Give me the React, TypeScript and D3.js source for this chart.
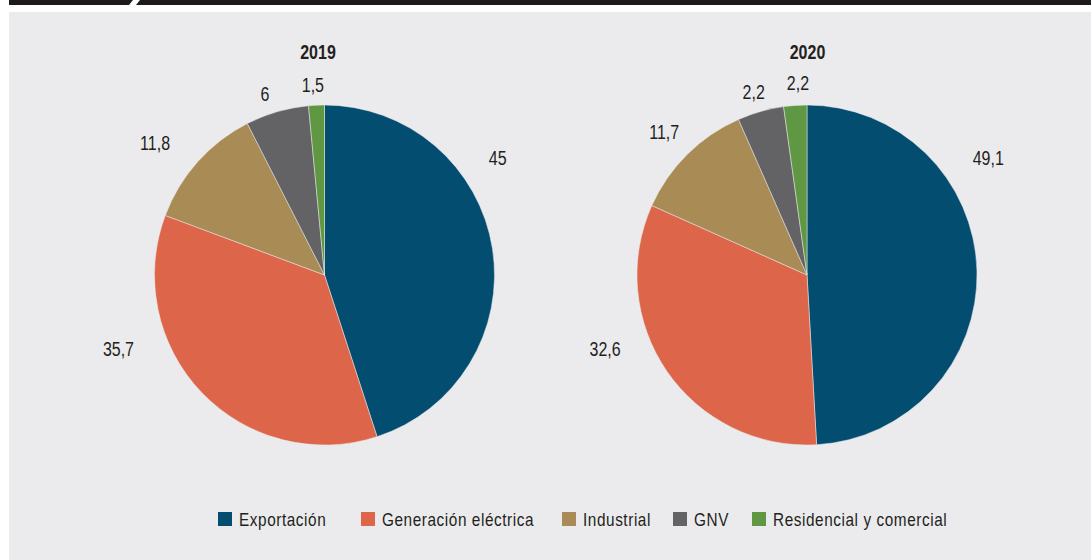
import React from "react";
import * as d3 from "d3";

const categories = ["Exportación", "Generación eléctrica", "Industrial", "GNV", "Residencial y comercial"];
const years = ["2019", "2020"];
const values2019 = [45, 35.7, 11.8, 6, 1.5];
const values2020 = [49.1, 32.6, 11.7, 4.4, 2.2];
const labels2019 = ["45", "35,7", "11,8", "6", "1,5"];
const labels2020 = ["49,1", "32,6", "11,7", "2,2", "2,2"];

const colors = ["#034D70", "#DD6549", "#A88B55", "#636366", "#5F9742"];

// layout (not data)
const W = 1092;
const H = 560;
const R = 170;
const pieCenters = [
  { x: 324.5, y: 275, titleX: 318 },
  { x: 807, y: 275, titleX: 807.5 },
];
// label polar placement [angle in degrees clockwise from top, radius]
const labelPolar2019: [number, number][] = [[56, 209], [250.2, 219], [308, 215], [341.8, 191], [356.5, 190]];
const labelPolar2020: [number, number][] = [[57.2, 215.6], [249.9, 215], [315, 202], [343.8, 191], [357.3, 192]];
const legendX = [218, 361, 562, 673, 752];

const FONT = "'Liberation Sans', Arial, sans-serif";
const TEXT = "#231F20";
const SX = 0.82; // horizontal condensing to emulate a narrow face

export default function App() {
  const pie = d3
    .pie<number>()
    .sort(null)
    .value((d) => d)
    .startAngle(0)
    .endAngle(2 * Math.PI);
  const arc = d3.arc<d3.PieArcDatum<number>>().innerRadius(0).outerRadius(R);

  const sets = [
    { values: values2019, labels: labels2019, polar: labelPolar2019 },
    { values: values2020, labels: labels2020, polar: labelPolar2020 },
  ];

  return (
    <svg
      width={W}
      height={H}
      style={{ position: "absolute", left: 0, top: 0, background: "#FFFFFF" }}
      fontFamily={FONT}
    >
      {/* top bar */}
      <rect x={9} y={0} width={1082} height={5} fill="#1E1A1B" />
      <polygon points="133,0 140,0 136,5 129,5" fill="#FFFFFF" />
      {/* panel */}
      <rect x={9} y={12} width={1082} height={548} fill="#EBEBED" />

      {sets.map((s, i) => {
        const c = pieCenters[i];
        const arcs = pie(s.values);
        return (
          <g key={years[i]}>
            <text
              transform={`translate(${c.titleX},59.3) scale(${SX},1)`}
              textAnchor="middle"
              fontWeight="bold"
              fontSize={19.5}
              fill={TEXT}
            >
              {years[i]}
            </text>
            <g transform={`translate(${c.x},${c.y})`}>
              {arcs.map((a, j) => (
                <path key={j} d={arc(a) || ""} fill={colors[j]} stroke="#EBEBED" strokeWidth={0.5} />
              ))}
              {s.labels.map((lab, j) => {
                const [deg, r] = s.polar[j];
                const ang = (deg * Math.PI) / 180;
                return (
                  <text
                    key={j}
                    transform={`translate(${r * Math.sin(ang)},${-r * Math.cos(ang)}) scale(${SX},1)`}
                    textAnchor="middle"
                    dy="0.36em"
                    fontSize={19.5}
                    fill={TEXT}
                  >
                    {lab}
                  </text>
                );
              })}
            </g>
          </g>
        );
      })}

      {/* legend */}
      {categories.map((cat, j) => (
        <g key={cat} transform={`translate(${legendX[j]},512)`}>
          <rect x={0} y={0} width={14} height={14} fill={colors[j]} />
          <text
            transform={`translate(21,13.7) scale(${SX},1)`}
            fontSize={18.7}
            fill={TEXT}
            letterSpacing={0.7}
          >
            {cat}
          </text>
        </g>
      ))}
    </svg>
  );
}
